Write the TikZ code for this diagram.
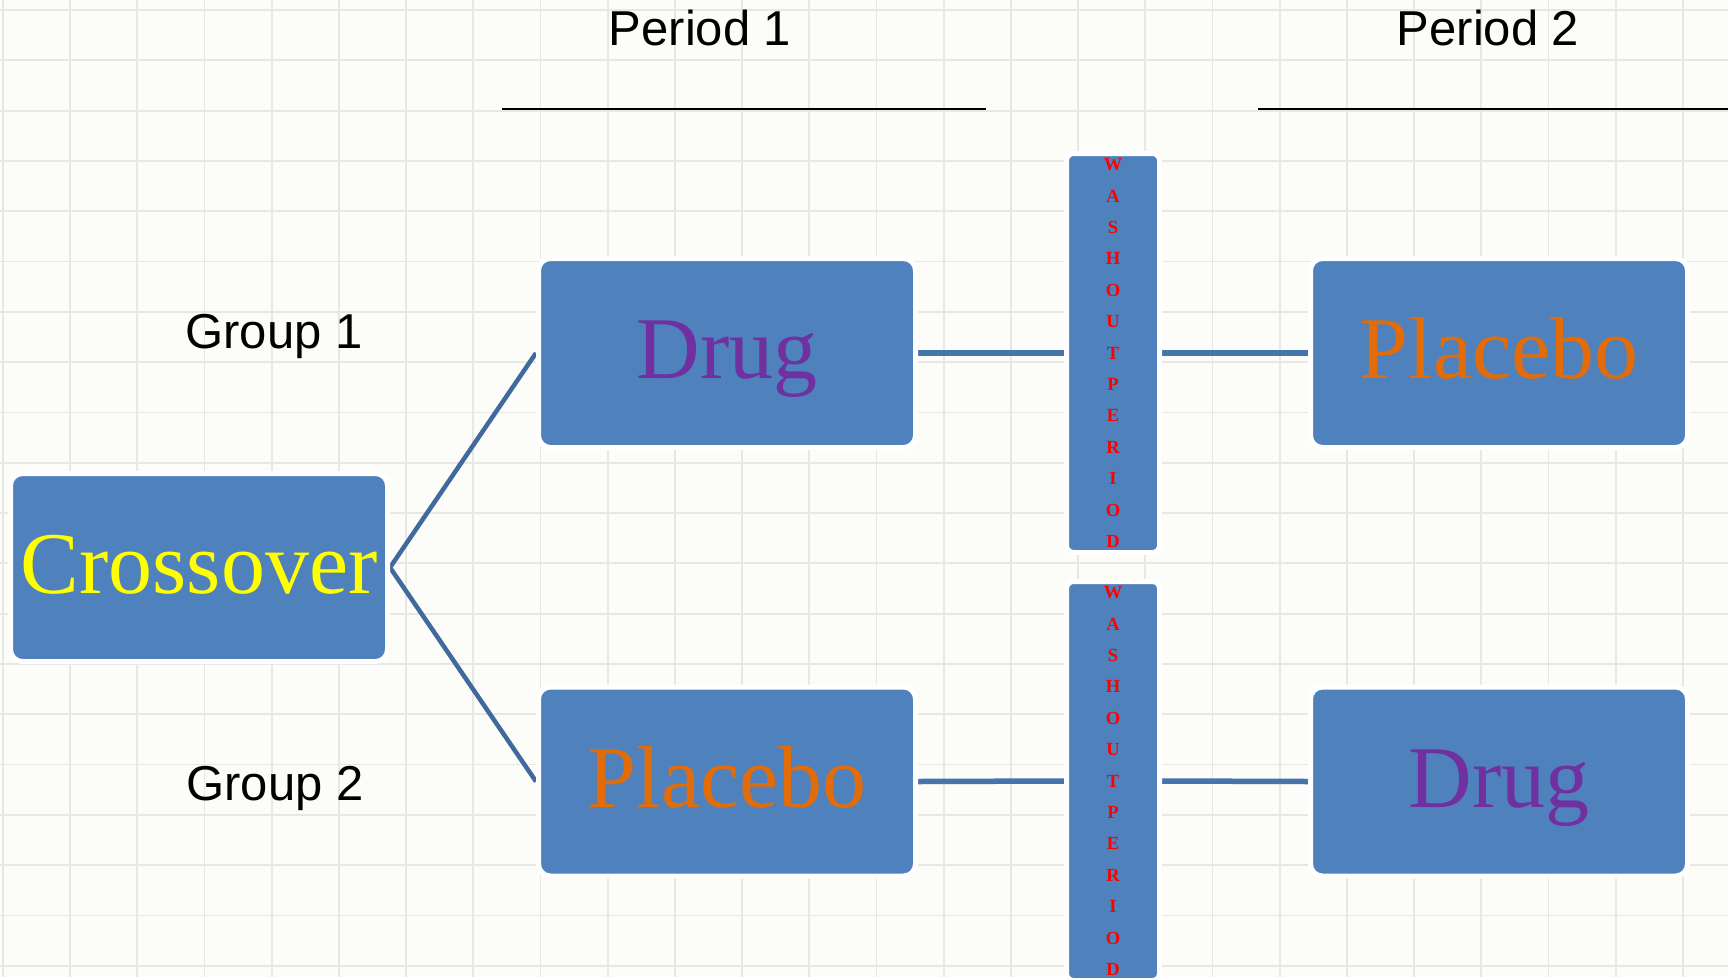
\documentclass[tikz,border=0pt]{standalone}
\usepackage{fontspec}
\setmainfont{Liberation Serif}
\newfontfamily\labelfont{Liberation Sans}
\definecolor{paper}{HTML}{FCFCF8}
\definecolor{gridc}{HTML}{E7E7E5}
\definecolor{boxblue}{HTML}{4F81BD}
\definecolor{connh}{HTML}{4674AC}
\definecolor{connd}{HTML}{41699D}
\definecolor{drugc}{HTML}{7030A0}
\definecolor{placc}{HTML}{E36C0A}
\definecolor{crossc}{HTML}{FFFF00}
\definecolor{washc}{HTML}{FF0000}
\pgfdeclarelayer{gridlayer}
\pgfdeclarelayer{edgelayer}
\pgfsetlayers{gridlayer,edgelayer,main}
\tikzset{
  bigbox/.style={rectangle, rounded corners=12pt, fill=boxblue, draw=white, line width=5pt,
    minimum width=377pt, minimum height=189pt, inner sep=0pt,
    text height=63pt, text depth=12pt, font=\fontsize{88}{92}\selectfont},
  washbox/.style={rectangle, rounded corners=7pt, fill=boxblue, draw=white, line width=5pt,
    minimum width=93pt, minimum height=399pt, inner sep=0pt, align=center,
    text=washc, font=\fontsize{18.5}{31.4}\selectfont\bfseries},
  lbl/.style={font=\labelfont\fontsize{49}{55}\selectfont, inner sep=0pt, anchor=base},
  hconn/.style={draw=connh, line width=5.5pt},
  dconn/.style={draw=connd, line width=4.5pt},
  rule/.style={draw=black, line width=2pt}
}
\begin{document}
\begin{tikzpicture}[x=1pt,y=-1pt]
\useasboundingbox (0,0) rectangle (1728,977);
\begin{pgfonlayer}{gridlayer}
  \fill[paper] (0,0) rectangle (1728,977);
  \foreach \i in {-1,...,25}{
    \pgfmathsetmacro{\gx}{70+67.2*\i}
    \draw[gridc, line width=1.8pt] (\gx,0) -- (\gx,977);
  }
  \foreach \j in {0,...,19}{
    \pgfmathsetmacro{\gy}{10+50.3*\j}
    \draw[gridc, line width=1.8pt] (0,\gy) -- (1728,\gy);
  }
\end{pgfonlayer}

% labels
\node[lbl] (p1) at (700,45) {Period 1};
\node[lbl] (p2) at (1488,45) {Period 2};
\node[lbl] (g1) at (274,348) {Group 1};
\node[lbl] (g2) at (275,800) {Group 2};

\coordinate (r1a) at (502,109);
\coordinate (r1b) at (986,109);
\coordinate (r2a) at (1258,109);
\coordinate (r2b) at (1728,109);
\draw[rule] (r1a) -- (r1b);
\draw[rule] (r2a) -- (r2b);

% boxes
\node[bigbox, text=crossc, minimum height=188pt] (cross) at (199,567.5) {Crossover};
\node[bigbox, text=drugc] (drugA) at (727,353) {Drug};
\node[bigbox, text=placc] (placA) at (1499,353) {Placebo};
\node[bigbox, text=placc] (placB) at (727,781.5) {Placebo};
\node[bigbox, text=drugc] (drugB) at (1499,781.5) {Drug};

\node[washbox] (washA) at (1113,353) {W\\A\\S\\H\\O\\U\\T\\P\\E\\R\\I\\O\\D};
\node[washbox] (washB) at (1113,781) {W\\A\\S\\H\\O\\U\\T\\P\\E\\R\\I\\O\\D};

% connectors
\begin{pgfonlayer}{edgelayer}
  \draw[dconn] (cross.east) -- (drugA.west);
  \draw[dconn] (cross.east) -- (placB.west);
  \draw[hconn] (drugA.east) -- (washA.west);
  \draw[hconn] (washA.east) -- (placA.west);
  \draw[hconn] (placB.east) -- (washB.west);
  \draw[hconn] (washB.east) -- (drugB.west);
\end{pgfonlayer}
\end{tikzpicture}
\end{document}
